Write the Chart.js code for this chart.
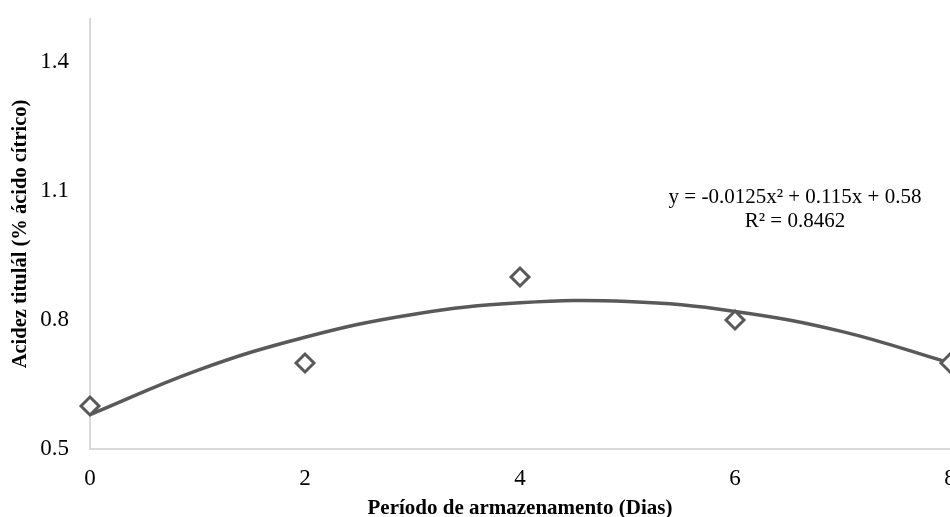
<!DOCTYPE html>
<html>
<head>
<meta charset="utf-8">
<script src="https://cdn.jsdelivr.net/npm/chart.js@4/dist/chart.umd.min.js"></script>
<style>
  html, body { margin: 0; padding: 0; background: #fff; overflow: hidden; }
  #wrap { width: 950px; height: 517px; overflow: hidden; }
</style>
</head>
<body>
<div id="wrap"><canvas id="grafico" width="970" height="517"></canvas></div>
<script>
// Dados
const dias = [0, 2, 4, 6, 8];
const acidez = [0.6, 0.7, 0.9, 0.8, 0.7];

// Linha de tendência
const tendenciaX = [0, 1, 2, 3, 4, 5, 6, 7, 8];
const tendenciaY = [0.58, 0.683, 0.76, 0.813, 0.84, 0.843, 0.82, 0.773, 0.70];

const yTicks = [0.5, 0.8, 1.1, 1.4];
const xTicks = [0, 2, 4, 6, 8];
const equacao = ['y = -0.0125x\u00b2 + 0.115x + 0.58', 'R\u00b2 = 0.8462'];

const cinza = '#595959';
const eixo = '#d9d9d9';
const serif = "'Liberation Serif', 'Times New Roman', serif";

const equacaoPlugin = {
  id: 'equacao',
  afterDatasetsDraw(chart) {
    const ctx = chart.ctx;
    ctx.save();
    ctx.fillStyle = '#000';
    ctx.font = `21px ${serif}`;
    ctx.textAlign = 'center';
    ctx.textBaseline = 'middle';
    ctx.fillText(equacao[0], 795, 197);
    ctx.fillText(equacao[1], 795, 221);
    ctx.restore();
  }
};

new Chart(document.getElementById('grafico').getContext('2d'), {
  type: 'scatter',
  data: {
    datasets: [
      {
        label: 'Acidez',
        data: dias.map((d, i) => ({ x: d, y: acidez[i] })),
        showLine: false,
        clip: false,
        pointStyle: 'rectRot',
        pointRadius: 9,
        pointBorderWidth: 3,
        pointBorderColor: cinza,
        pointBackgroundColor: '#fff'
      },
      {
        label: 'Tendência',
        data: tendenciaX.map((d, i) => ({ x: d, y: tendenciaY[i] })),
        showLine: true,
        clip: false,
        borderColor: cinza,
        borderWidth: 3.5,
        tension: 0.4,
        pointRadius: 0
      }
    ]
  },
  options: {
    responsive: false,
    animation: false,
    layout: { padding: { top: 19, right: 20, left: 0, bottom: 0 } },
    plugins: { legend: { display: false }, tooltip: { enabled: false } },
    scales: {
      x: {
        type: 'linear', min: 0, max: 8,
        afterBuildTicks: (s) => { s.ticks = xTicks.map(v => ({ value: v })); },
        afterFit: (s) => { s.paddingLeft = 0; s.paddingRight = 0; s.height = 68; },
        grid: { display: false, drawTicks: false },
        border: { color: eixo, width: 2 },
        ticks: { color: '#000', padding: 16, font: { family: serif, size: 23 } },
        title: { display: true, text: 'Período de armazenamento (Dias)', color: '#000', padding: { top: 12, bottom: -4 }, font: { family: serif, size: 21, weight: 'bold' } }
      },
      y: {
        type: 'linear', min: 0.5, max: 1.5,
        afterBuildTicks: (s) => { s.ticks = yTicks.map(v => ({ value: v })); },
        afterFit: (s) => { s.paddingTop = 0; s.paddingBottom = 0; s.width = 90; },
        grid: { display: false, drawTicks: false },
        border: { color: eixo, width: 2 },
        ticks: { color: '#000', padding: 21, font: { family: serif, size: 23 }, callback: (v) => v.toFixed(1) },
        title: { display: true, text: 'Acidez titulál (% ácido cítrico)', color: '#000', padding: { top: 8, bottom: 0 }, font: { family: serif, size: 20.5, weight: 'bold' } }
      }
    }
  },
  plugins: [equacaoPlugin]
});
</script>
</body>
</html>
